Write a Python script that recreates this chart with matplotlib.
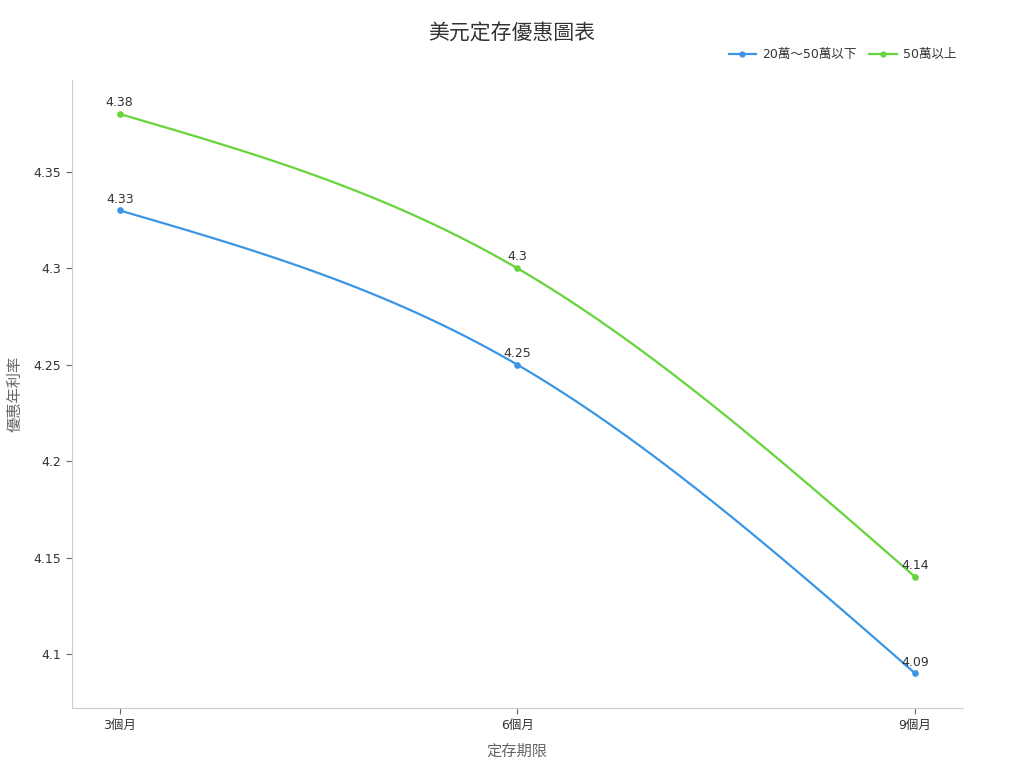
import numpy as np
import matplotlib
matplotlib.use("Agg")
from matplotlib import pyplot as plt
from matplotlib.lines import Line2D

plt.rcParams['font.family'] = ['DejaVu Sans', 'Noto Sans CJK TC']

periods = ['3個月', '6個月', '9個月']
rate_mid = [4.33, 4.25, 4.09]
rate_high = [4.38, 4.30, 4.14]
series_names = ['20萬〜50萬以下', '50萬以上']
colors = ['#3a96e4', '#66d43a']


def monotone_x(ys, n=60):
    # d3 curveMonotoneX style hermite spline on unit spaced x
    ys = np.asarray(ys, dtype=float)
    s = np.diff(ys)
    t = np.zeros(len(ys))
    for i in range(1, len(ys) - 1):
        p = (s[i - 1] + s[i]) / 2
        t[i] = (np.sign(s[i - 1]) + np.sign(s[i])) * min(abs(s[i - 1]), abs(s[i]), 0.5 * abs(p))
    t[0] = (3 * s[0] - t[1]) / 2
    t[-1] = (3 * s[-1] - t[-2]) / 2
    xs_out, ys_out = [], []
    for i in range(len(ys) - 1):
        u = np.linspace(0, 1, n)
        h00 = 2 * u**3 - 3 * u**2 + 1
        h10 = u**3 - 2 * u**2 + u
        h01 = -2 * u**3 + 3 * u**2
        h11 = u**3 - u**2
        yy = h00 * ys[i] + h10 * t[i] + h01 * ys[i + 1] + h11 * t[i + 1]
        xs_out.append(i + u)
        ys_out.append(yy)
    return np.concatenate(xs_out), np.concatenate(ys_out)


fig = plt.figure(figsize=(10.24, 7.68), dpi=100)
ax = fig.add_axes([0.0703, 0.078, 0.87, 0.818])

x = np.arange(len(periods))
for vals, name, c in zip([rate_mid, rate_high], series_names, colors):
    sx, sy = monotone_x(vals)
    ax.plot(sx, sy, color=c, lw=1.6, label=name)
    ax.plot(x, vals, 'o', color=c, ms=3.8)
    for xi, v in zip(x, vals):
        ax.annotate(f'{v:g}', (xi, v), xytext=(0, 3.5), textcoords='offset points',
                    ha='center', va='bottom', fontsize=9, color='#333333')

handles = [Line2D([0], [0], color=c, lw=1.6, marker='o', ms=3.5) for c in colors]
fig.legend(handles, series_names, loc='upper right', bbox_to_anchor=(0.945, 0.952),
           ncol=2, frameon=False, fontsize=9, handlelength=2.2, columnspacing=1.0,
           handletextpad=0.5, labelcolor='#333333')

ax.set_xlim(-0.12, 2.12)
ax.set_ylim(4.072, 4.3977)
ax.set_xticks(x)
ax.set_xticklabels(periods)
ax.set_yticks([4.1, 4.15, 4.2, 4.25, 4.3, 4.35])
ax.set_yticklabels(['4.1', '4.15', '4.2', '4.25', '4.3', '4.35'])
ax.tick_params(labelsize=9, colors='#666666', labelcolor='#333333', length=4, width=0.8)

for side in ['top', 'right']:
    ax.spines[side].set_visible(False)
for side in ['left', 'bottom']:
    ax.spines[side].set_color('#cccccc')

ax.set_xlabel('定存期限', fontsize=11, color='#666666', labelpad=9)
ax.set_ylabel('優惠年利率', fontsize=11, color='#666666', labelpad=8)
fig.suptitle('美元定存優惠圖表', fontsize=15, color='#333333', y=0.97)

fig.savefig('out.png', dpi=100)
